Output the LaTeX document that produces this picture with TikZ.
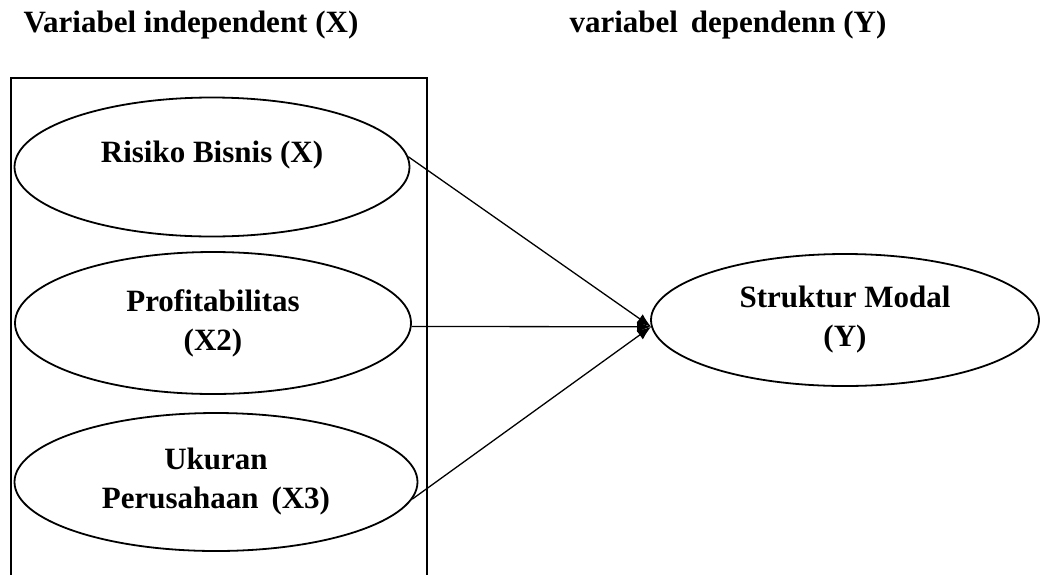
\documentclass[tikz,border=0pt]{standalone}
\usepackage{fontspec}
\setmainfont{Liberation Serif}
\usetikzlibrary{shapes.geometric,arrows.meta}
\begin{document}
\begin{tikzpicture}[x=1pt,y=-1pt,
  txt/.style={font=\fontsize{31}{39}\selectfont\bfseries, align=center, inner sep=0pt},
  var/.style={ellipse, draw, line width=1.8pt, txt},
  link/.style={line width=1.3pt, -{Latex[length=14pt,width=11pt]}},
  frame/.style={draw, line width=2pt, inner sep=0pt, anchor=north west}]
\useasboundingbox (0,0) rectangle (1040,574);
\clip (0,0) rectangle (1040,574);
\fill[white] (0,0) rectangle (1040,574);
% headers
\node[txt, anchor=base] (hx) at (191,32) {Variabel independent (X)};
\node[txt, anchor=base] (hy) at (728,32) {variabel\, dependenn (Y)};
% frame
\node[frame, minimum width=416pt, minimum height=540pt] (box) at (10,77) {};
% variables
\node[var, minimum width=395pt, minimum height=139pt] (e1) at (212,167) {Risiko Bisnis (X)\\[-8pt]\mbox{}};
\node[var, minimum width=396pt, minimum height=142pt] (e2) at (213,323) {Profitabilitas\\(X2)};
\node[var, minimum width=403pt, minimum height=138pt] (e3) at (216,482) {Ukuran\\Perusahaan\, (X3)};
\node[var, minimum width=388pt, minimum height=132pt] (e4) at (845,320) {Struktur Modal\\(Y)};
% connectors
\draw[link] (e1.3.5) -- (e4.182);
\draw[link] (e2.-1.7) -- (e4.182);
\draw[link] (e3.-5) -- (e4.182);
\end{tikzpicture}
\end{document}
